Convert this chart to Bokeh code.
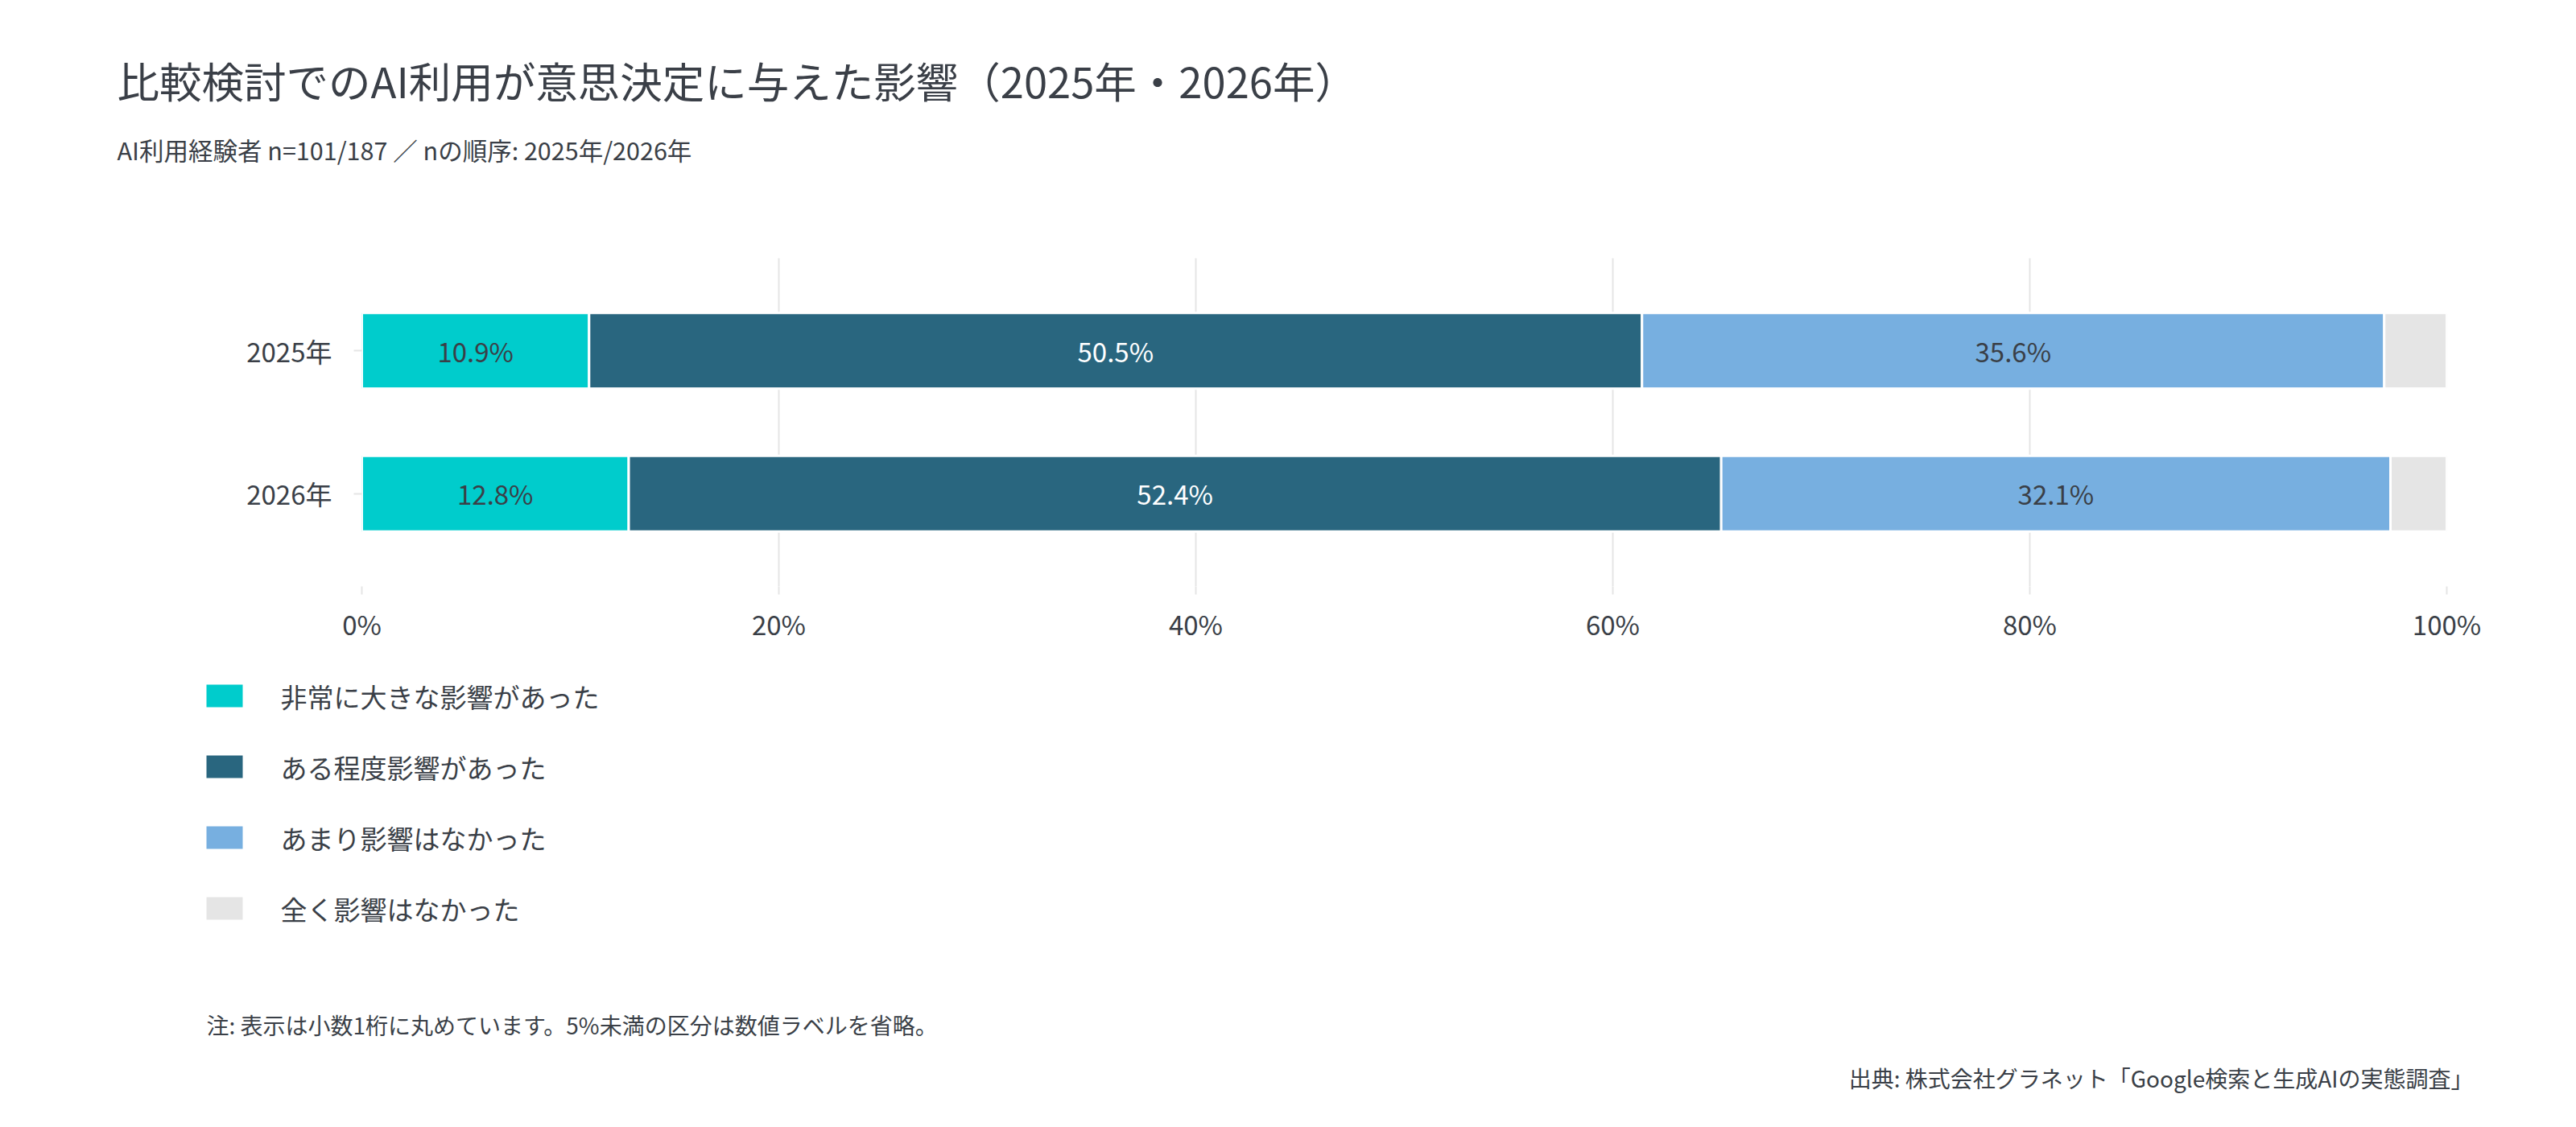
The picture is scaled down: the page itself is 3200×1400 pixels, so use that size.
from bokeh.plotting import figure
from bokeh.layouts import column, row
from bokeh.models import (ColumnDataSource, FactorRange, Range1d, Label,
                          PrintfTickFormatter)
from bokeh.core.properties import value
from bokeh.embed import file_html
from bokeh.resources import INLINE

FONT = "Noto Sans CJK JP"
TEXT = "#3a3f47"
W = 3184

# data (percent)
years = ["2025年", "2026年"]
categories = ["非常に大きな影響があった", "ある程度影響があった",
              "あまり影響はなかった", "全く影響はなかった"]
very_large = [10.9, 12.8]
somewhat = [50.5, 52.4]
not_much = [35.6, 32.1]
none_at_all = [3.0, 2.7]
colors = ["#00cccc", "#29667f", "#77afe0", "#e5e5e5"]
label_colors = [TEXT, "white", TEXT, TEXT]
x_ticks = [0, 20, 40, 60, 80, 100]

title_text = "比較検討でのAI利用が意思決定に与えた影響（2025年・2026年）"
subtitle_text = "AI利用経験者 n=101/187 ／ nの順序: 2025年/2026年"
note_text = "注: 表示は小数1桁に丸めています。5%未満の区分は数値ラベルを省略。"
source_text = "出典: 株式会社グラネット「Google検索と生成AIの実態調査」"


def blank(height):
    # a plain canvas whose data units are pixels, y growing downwards
    f = figure(width=W, height=height, output_backend="svg", toolbar_location=None,
               x_range=Range1d(0, W), y_range=Range1d(height, 0),
               x_axis_type=None, y_axis_type=None, min_border=0)
    f.outline_line_color = None
    f.background_fill_color = "white"
    f.border_fill_color = "white"
    return f


def add_text(f, txt, x, y, size, align="left"):
    f.add_layout(Label(x=x, y=y, text=txt, text_font=FONT, text_font_size=size,
                       text_color=TEXT, text_align=align, text_baseline="middle"))


# header: title and subtitle
header = blank(320)
add_text(header, title_text, 145, 98, "52.5px")
add_text(header, subtitle_text, 145, 185, "30.5px")

# main chart
series = [very_large, somewhat, not_much, none_at_all]
keys = ["s%d" % i for i in range(len(categories))]
data = {"year": years}
for k, s in zip(keys, series):
    data[k] = s
source = ColumnDataSource(data)

p = figure(width=W, height=488, output_backend="svg", toolbar_location=None,
           y_range=FactorRange(factors=years[::-1], range_padding=0.15),
           x_range=Range1d(0, 100),
           min_border_left=449, min_border_right=145,
           min_border_top=0, min_border_bottom=80)
p.outline_line_color = None
p.background_fill_color = "white"
p.border_fill_color = "white"

p.hbar_stack(keys, y="year", height=0.53, color=colors,
             line_color="white", line_width=3, source=source)

# value labels in the middle of each segment (skip < 5%)
lx, ly, lt, lc = [], [], [], []
left = [0.0] * len(years)
for s, c in zip(series, label_colors):
    for j, v in enumerate(s):
        if v >= 5:
            lx.append(left[j] + v / 2)
            ly.append(years[j])
            lt.append("%.1f%%" % v)
            lc.append(c)
        left[j] += v
p.text(x=lx, y=ly, text=lt, text_color=lc, text_align="center",
       text_baseline="middle", text_font=value(FONT), text_font_size="33px")

p.xaxis.ticker = x_ticks
p.xaxis.formatter = PrintfTickFormatter(format="%d%%")
for ax in (p.xaxis, p.yaxis):
    ax.axis_line_color = None
    ax.major_tick_line_color = "#e5e5e5"
    ax.major_tick_line_width = 2
    ax.major_tick_in = 0
    ax.major_tick_out = 10
    ax.minor_tick_line_color = None
    ax.major_label_text_font = FONT
    ax.major_label_text_font_size = "33px"
    ax.major_label_text_color = TEXT
p.xaxis.major_label_standoff = 12
p.yaxis.major_label_standoff = 27
p.xgrid.grid_line_color = "#e5e5e5"
p.xgrid.grid_line_width = 2
p.ygrid.grid_line_color = None

# footer: legend and notes
footer = blank(576)
row_y = [56 + 88 * i for i in range(len(categories))]
footer.rect(x=[278.5] * len(categories), y=row_y, width=45, height=28,
            color=colors, line_color=None)
footer.text(x=[348] * len(categories), y=row_y, text=categories,
            text_color=TEXT, text_align="left", text_baseline="middle",
            text_font=value(FONT), text_font_size="33px")
add_text(footer, note_text, 256, 464, "28px")
add_text(footer, source_text, 3072, 530, "28px", align="right")

# each piece sits in its own row so the plot frames are not lined up
layout = column(row(header), row(p), row(footer), spacing=0)
open("out.html", "w").write(file_html(layout, INLINE))
